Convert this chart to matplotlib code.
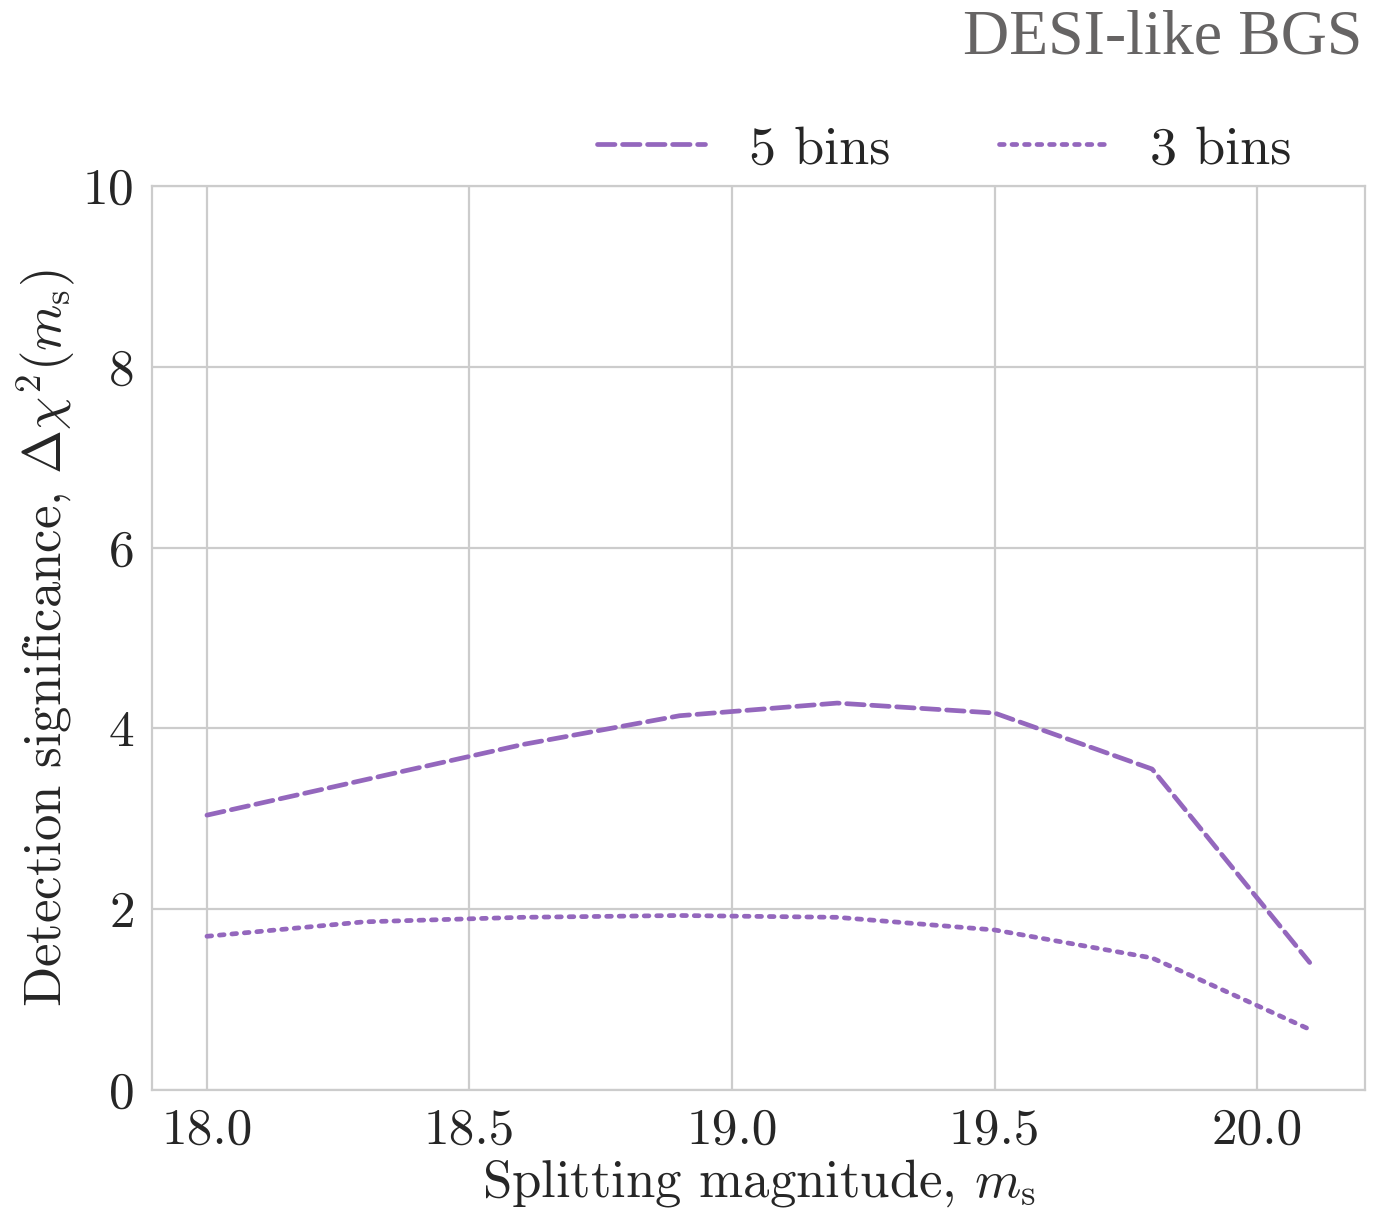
import numpy as np
import matplotlib
matplotlib.use("Agg")
import matplotlib.pyplot as plt
import seaborn as sns

# Delta chi^2 detection significance vs splitting magnitude
m_split = [18.0, 18.3, 18.6, 18.9, 19.2, 19.5, 19.8, 20.1]
dchi2_5bins = [3.04, 3.43, 3.82, 4.14, 4.28, 4.17, 3.55, 1.41]
dchi2_3bins = [1.70, 1.86, 1.91, 1.93, 1.91, 1.77, 1.46, 0.67]

xticks = [18.0, 18.5, 19.0, 19.5, 20.0]
yticks = [0, 2, 4, 6, 8, 10]

sns.set_style("whitegrid")
plt.rcParams["font.family"] = "cmr10"
plt.rcParams["mathtext.fontset"] = "cm"
plt.rcParams["axes.formatter.use_mathtext"] = True

purple = "#9467bd"

fig = plt.figure(figsize=(6.9, 6.06), dpi=200)
ax = fig.add_axes([0.110, 0.1007, 0.879, 0.7458])

ax.plot(m_split, dchi2_5bins, color=purple, lw=1.7, ls="--",
        dash_capstyle="round", label="5 bins")
ax.plot(m_split, dchi2_3bins, color=purple, lw=1.7, ls=":",
        dash_capstyle="round", label="3 bins")

ax.set_ylim(0, 10)
ax.set_xticks(xticks)
ax.set_xticklabels([f"{t:.1f}" for t in xticks])
ax.set_yticks(yticks)
ax.tick_params(labelsize=18.5, colors=".15")
ax.tick_params(axis="x", pad=3)
ax.tick_params(axis="y", pad=3)

ax.set_xlabel(r"Splitting magnitude, $m_{\rm s}$", fontsize=19, labelpad=1)
ax.set_ylabel(r"Detection significance, $\Delta\chi^2(m_{\rm s})$",
              fontsize=19, labelpad=2)

ax.legend(loc="lower right", bbox_to_anchor=(0.98, 0.96), ncol=2,
          frameon=False, fontsize=19.5, handlelength=2.0,
          columnspacing=2.0, handletextpad=0.8)

fig.text(0.9875, 0.968, "DESI-like BGS", ha="right", va="center",
         fontsize=23, color="#666464", family="Liberation Serif")

fig.savefig("out.png", dpi=200)
